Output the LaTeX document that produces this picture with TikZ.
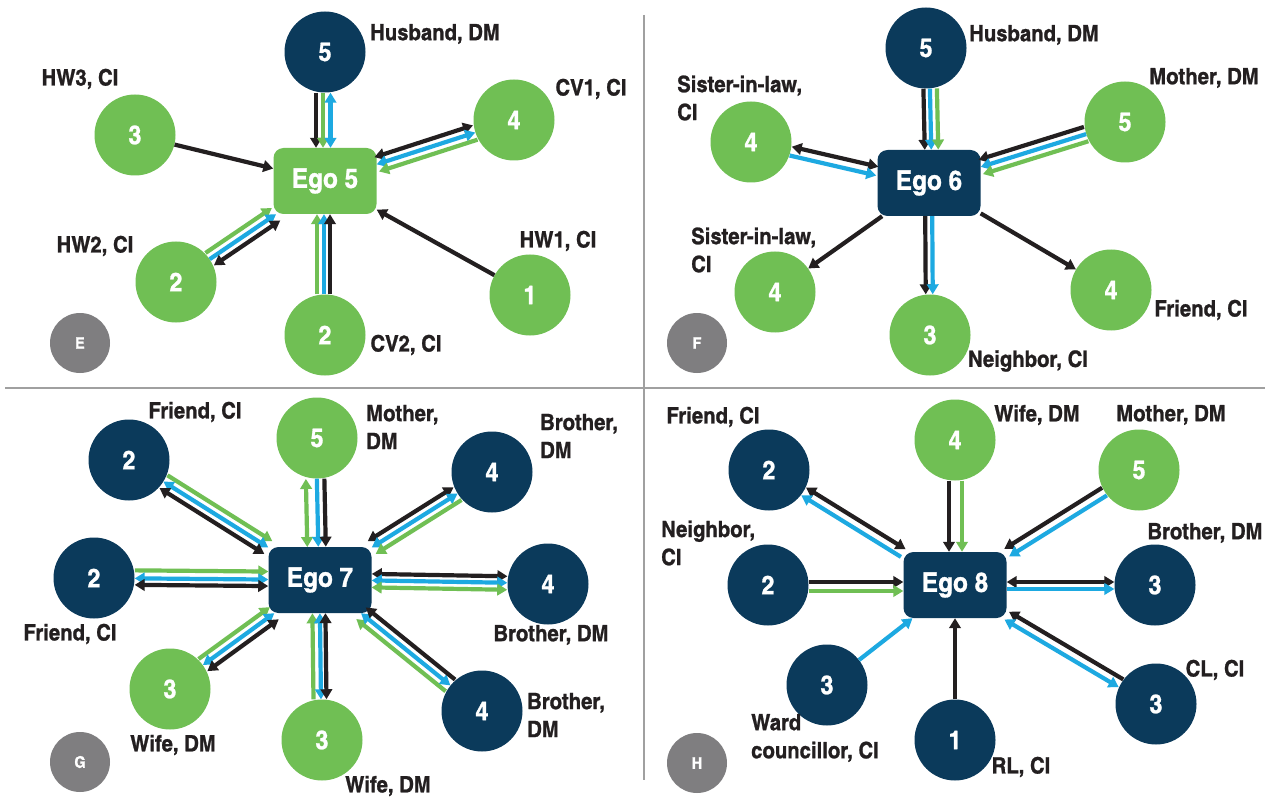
\documentclass[tikz,border=0pt]{standalone}
\usepackage{fontspec}
\setmainfont{texgyreheroscn}[Extension=.otf, UprightFont=*-regular, BoldFont=*-bold, FakeStretch=1.1, BoldFeatures={FakeBold=1}]
\usetikzlibrary{arrows.meta,calc}
\definecolor{cnavy}{HTML}{0B3A5B}
\definecolor{cgreen}{HTML}{70BF54}
\definecolor{cblue}{HTML}{1DA9E1}
\definecolor{cblack}{HTML}{231F20}
\definecolor{cgray}{HTML}{7F7E80}
\definecolor{cline}{HTML}{A0A0A0}
\newcommand\lnk[4]{\draw[#1, transform canvas={shift={($(#2)!#4pt!90:(#3)-(#2)$)}}] (#2) -- (#3);}
\begin{document}
\begin{tikzpicture}[x=1pt,y=-1pt,
 >={Triangle[length=10pt,width=11.5pt]},
 gn/.style={circle, fill=cgreen, minimum size=81pt, inner sep=0pt, text=white, font=\bfseries\fontsize{26}{26}\selectfont},
 dn/.style={gn, fill=cnavy},
 egog/.style={rectangle, rounded corners=10pt, fill=cgreen, minimum width=103pt, minimum height=66pt, text=white, font=\bfseries\fontsize{27}{27}\selectfont},
 egod/.style={egog, fill=cnavy},
 badge/.style={circle, fill=cgray, minimum size=60pt, inner sep=0pt, text=white, font=\bfseries\fontsize{16}{16}\selectfont},
 lab/.style={font=\bfseries\fontsize{22.5}{28}\selectfont, text=cblack, inner sep=0pt, align=left},
 K/.style={draw=cblack, line width=4.2pt},
 B/.style={draw=cblue, line width=4.2pt},
 G/.style={draw=cgreen, line width=4.2pt},
 divider/.style={draw=cline, line width=2.5pt}]
\useasboundingbox (0,0) rectangle (1282,802);
\fill[white] (0,0) rectangle (1282,802);
% dividers
\coordinate (hl) at (5,388);
\coordinate (hr) at (1265,388);
\coordinate (vt) at (644,15);
\coordinate (vb) at (644,780);
\draw[divider] (hl) -- (hr);
\draw[divider] (vt) -- (vb);

% ---------------- E ----------------
\node[egog] (egoE) at (325,181) {Ego 5};
\node[dn] (eHus) at (325,52) {5};
\node[gn] (eHW3) at (135,135) {3};
\node[gn] (eCV1) at (514,120) {4};
\node[gn] (eHW2) at (176,282) {2};
\node[gn] (eCV2) at (325,335) {2};
\node[gn] (eHW1) at (530,295) {1};
\node[badge] (bE) at (80,343) {E};
\node[lab] (leHus) at (435,34) {Husband, DM};
\node[lab] (leHW3) at (80,79) {HW3, CI};
\node[lab] (leCV1) at (591,89) {CV1, CI};
\node[lab] (leHW2) at (95,246) {HW2, CI};
\node[lab] (leCV2) at (406,345) {CV2, CI};
\node[lab] (leHW1) at (558,241) {HW1, CI};
\lnk{K,->}{eHus}{egoE}{-9}
\lnk{G,->}{eHus}{egoE}{-2}
\lnk{B,<->}{eHus}{egoE}{5.5}
\lnk{K,->}{eHW3}{egoE}{0}
\lnk{K,<->}{eCV1}{egoE}{-7.5}
\lnk{B,<->}{eCV1}{egoE}{0}
\lnk{G,->}{eCV1}{egoE}{7.5}
\lnk{G,->}{eHW2}{egoE}{7.5}
\lnk{B,->}{eHW2}{egoE}{0}
\lnk{K,<->}{eHW2}{egoE}{-7.5}
\lnk{G,->}{eCV2}{egoE}{8}
\lnk{B,->}{eCV2}{egoE}{1}
\lnk{K,->}{eCV2}{egoE}{-5}
\lnk{K,->}{eHW1}{egoE}{0}

% ---------------- F ----------------
\node[egod] (egoF) at (929,183) {Ego 6};
\node[dn] (fHus) at (926,48) {5};
\node[gn] (fSIL1) at (751,142) {4};
\node[gn] (fMot) at (1125,122) {5};
\node[gn] (fSIL2) at (775,292) {4};
\node[gn] (fNei) at (930,335) {3};
\node[gn] (fFri) at (1111,290) {4};
\node[badge] (bF) at (697,343) {F};
\node[lab] (lfHus) at (1034,35) {Husband, DM};
\node[lab, anchor=west] (lfSIL1) at (677,98) {Sister-in-law,\\CI};
\node[lab] (lfMot) at (1204,78) {Mother, DM};
\node[lab, anchor=west] (lfSIL2) at (691,250) {Sister-in-law,\\CI};
\node[lab] (lfNei) at (1028,361) {Neighbor, CI};
\node[lab] (lfFri) at (1201,310) {Friend, CI};
\lnk{K,->}{fHus}{egoF}{-3.5}
\lnk{B,->}{fHus}{egoF}{3}
\lnk{G,->}{fHus}{egoF}{10}
\lnk{K,<->}{fSIL1}{egoF}{4.5}
\lnk{B,->}{fSIL1}{egoF}{-4.5}
\lnk{K,->}{fMot}{egoF}{-7.5}
\lnk{B,->}{fMot}{egoF}{0}
\lnk{G,->}{fMot}{egoF}{7.5}
\lnk{K,<-}{fSIL2}{egoF}{0}
\lnk{K,<-}{fNei}{egoF}{4}
\lnk{B,<-}{fNei}{egoF}{-3}
\lnk{K,<-}{fFri}{egoF}{0}

% ---------------- G ----------------
\node[egod] (egoG) at (320,580) {Ego 7};
\node[dn] (gFr1) at (129,460) {2};
\node[gn] (gMot) at (317,438) {5};
\node[dn] (gBr1) at (492,472) {4};
\node[dn] (gFr2) at (94,578) {2};
\node[dn] (gBr2) at (548,584) {4};
\node[gn] (gWi1) at (170,689) {3};
\node[gn] (gWi2) at (322,740) {3};
\node[dn] (gBr3) at (482,711) {4};
\node[badge] (bG) at (80,762) {G};
\node[lab] (lgFr1) at (195,412) {Friend, CI};
\node[lab, anchor=west] (lgMot) at (366,427) {Mother,\\DM};
\node[lab, anchor=west] (lgBr1) at (540,436) {Brother,\\DM};
\node[lab] (lgFr2) at (70,634) {Friend, CI};
\node[lab] (lgBr2) at (551,635) {Brother, DM};
\node[lab, anchor=west] (lgBr3) at (527,715) {Brother,\\DM};
\node[lab] (lgWi1) at (173,745) {Wife, DM};
\node[lab] (lgWi2) at (388,786) {Wife, DM};
\lnk{G,->}{gFr1}{egoG}{7.5}
\lnk{B,<->}{gFr1}{egoG}{0}
\lnk{K,<->}{gFr1}{egoG}{-7.5}
\lnk{G,<->}{gMot}{egoG}{-12}
\lnk{B,->}{gMot}{egoG}{-1}
\lnk{K,->}{gMot}{egoG}{6.5}
\lnk{K,<->}{gBr1}{egoG}{-7.5}
\lnk{B,<->}{gBr1}{egoG}{0}
\lnk{G,->}{gBr1}{egoG}{7.5}
\lnk{G,->}{gFr2}{egoG}{8}
\lnk{B,<->}{gFr2}{egoG}{0}
\lnk{K,<->}{gFr2}{egoG}{-6.5}
\lnk{K,<->}{gBr2}{egoG}{-7}
\lnk{B,<->}{gBr2}{egoG}{-0.5}
\lnk{G,<->}{gBr2}{egoG}{6.5}
\lnk{G,->}{gWi1}{egoG}{7.5}
\lnk{B,<->}{gWi1}{egoG}{0}
\lnk{K,<->}{gWi1}{egoG}{-7.5}
\lnk{G,->}{gWi2}{egoG}{8}
\lnk{B,<->}{gWi2}{egoG}{0.5}
\lnk{K,<->}{gWi2}{egoG}{-5}
\lnk{G,->}{gBr3}{egoG}{7.5}
\lnk{B,<->}{gBr3}{egoG}{0}
\lnk{K,->}{gBr3}{egoG}{-7.5}

% ---------------- H ----------------
\node[egod] (egoH) at (955,585) {Ego 8};
\node[dn] (hFri) at (769,470) {2};
\node[gn] (hWif) at (955,440) {4};
\node[gn] (hMot) at (1139,470) {5};
\node[dn] (hNei) at (768,585) {2};
\node[dn] (hBro) at (1155,585) {3};
\node[dn] (hWar) at (827,685) {3};
\node[dn] (hRL) at (955,740) {1};
\node[dn] (hCL) at (1156,704) {3};
\node[badge] (bH) at (697,763) {H};
\node[lab] (lhFri) at (713,417) {Friend, CI};
\node[lab] (lhWif) at (1037,415) {Wife, DM};
\node[lab] (lhMot) at (1171,415) {Mother, DM};
\node[lab, anchor=west] (lhNei) at (661,543) {Neighbor,\\CI};
\node[lab] (lhBro) at (1205,533) {Brother, DM};
\node[lab, anchor=west] (lhWar) at (751,738) {Ward\\councillor, CI};
\node[lab] (lhRL) at (1021,767) {RL, CI};
\node[lab] (lhCL) at (1215,670) {CL, CI};
\lnk{K,<->}{hFri}{egoH}{4.5}
\lnk{B,<-}{hFri}{egoH}{-4.5}
\lnk{K,->}{hWif}{egoH}{-6}
\lnk{G,->}{hWif}{egoH}{7}
\lnk{K,->}{hMot}{egoH}{-4.5}
\lnk{B,->}{hMot}{egoH}{4.5}
\lnk{K,->}{hNei}{egoH}{3}
\lnk{G,->}{hNei}{egoH}{-6}
\lnk{K,<->}{hBro}{egoH}{-3}
\lnk{B,<-}{hBro}{egoH}{4}
\lnk{B,->}{hWar}{egoH}{0}
\lnk{K,->}{hRL}{egoH}{0}
\lnk{K,->}{hCL}{egoH}{-4.5}
\lnk{B,<->}{hCL}{egoH}{4.5}
\end{tikzpicture}
\end{document}
